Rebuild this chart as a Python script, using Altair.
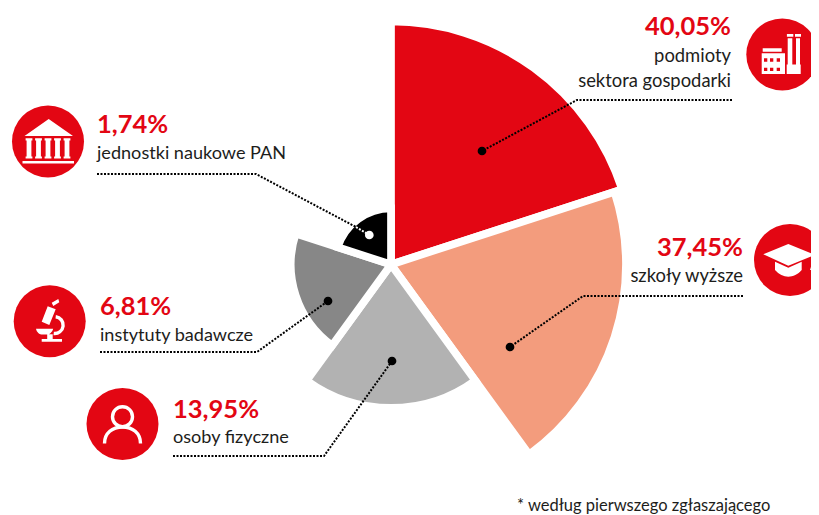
import math
import altair as alt
import pandas as pd

# ---- values ----
categories = ["podmioty sektora gospodarki", "szkoły wyższe", "osoby fizyczne",
              "instytuty badawcze", "jednostki naukowe PAN"]
shares = [40.05, 37.45, 13.95, 6.81, 1.74]          # printed labels
slice_size = [40.05, 37.45, 13.95, 6.81, 2.13]      # size as drawn (smallest slice is drawn a bit larger)
slice_order = [0, 1, 2, 3, 4]
percent_labels = ["40,05%", "37,45%", "13,95%", "6,81%", "1,74%"]

# ---- style / layout ----
RED = "#E30613"
INK = "#1D1D1B"
palette = [RED, "#F39C7D", "#B2B2B2", "#878787", "#000000"]
FONT = "Lato"
OX, OY = 8, 8

step = 2 * math.pi / len(categories)
pie_df = pd.DataFrame({"cat": categories, "size": slice_size,
                       "t0": [i * step for i in slice_order],
                       "t1": [(i + 1) * step for i in slice_order]})
pie = alt.Chart(pie_df).mark_arc(stroke="white", strokeWidth=7.7).encode(
    theta=alt.Theta("t0:Q", scale=None, stack=None),
    theta2="t1:Q",
    radius=alt.Radius("size:Q", stack=None, scale=alt.Scale(type="sqrt", domain=[0, 40.05], range=[0, 243])),
    color=alt.Color("cat:N", scale=alt.Scale(domain=categories, range=palette), legend=None),
    x=alt.value(391 - OX),
    y=alt.value(264.5 - OY),
)

def X(f="x"):
    return alt.X(f + ":Q", scale=None, axis=None)

def Y(f="y"):
    return alt.Y(f + ":Q", scale=None, axis=None)

# leader lines
leaders = [
    [(732, 100), (577, 100), (482, 151)],
    [(743, 296), (583, 296), (510, 347)],
    [(173, 456), (324, 456), (392, 361)],
    [(100, 352), (257, 352), (328, 301)],
    [(97, 174), (256, 174), (356, 227)],
]
inner_leader = [(356, 227), (369.3, 235)]

def line_df(polys):
    return pd.DataFrame([
        {"g": i, "k": k, "x": p[0] - OX, "y": p[1] - OY}
        for i, poly in enumerate(polys) for k, p in enumerate(poly)
    ])

def line_layer(polys, color):
    return alt.Chart(line_df(polys)).mark_line(
        strokeDash=[2, 1.5], strokeWidth=2, color=color
    ).encode(x=X(), y=Y(), detail="g:N", order="k:Q")

lines = line_layer(leaders, "black")
inner = line_layer([inner_leader], "white")

dots_df = pd.DataFrame({"x": [482 - OX, 510 - OX, 392 - OX, 328 - OX],
                        "y": [151 - OY, 347 - OY, 361 - OY, 301 - OY]})
dots = alt.Chart(dots_df).mark_point(filled=True, size=76, color="black", opacity=1, shape="circle").encode(x=X(), y=Y())
wdot = alt.Chart(pd.DataFrame({"x": [369.3 - OX], "y": [235 - OY]})).mark_point(
    filled=True, size=76, color="white", opacity=1, shape="circle").encode(x=X(), y=Y())

# icon discs
icon_centers = {
    "factory": (782.3, 54.5),
    "cap": (790, 260),
    "person": (122.5, 424),
    "scope": (49.7, 321.3),
    "bank": (48, 141.5),
}
discs_df = pd.DataFrame([{"x": c[0] - OX, "y": c[1] - OY} for c in icon_centers.values()])
discs = alt.Chart(discs_df).mark_point(filled=True, size=5184, color=RED, opacity=1, shape="circle").encode(x=X(), y=Y())

def rect(x0, y0, x1, y1):
    return f"M{x0},{y0}L{x1},{y0}L{x1},{y1}L{x0},{y1}Z"

def hole(x0, y0, x1, y1):
    return f"M{x0},{y0}L{x0},{y1}L{x1},{y1}L{x1},{y0}Z"

factory = (
    rect(5.4, -16.2, 10, 14) + rect(13.7, -16.2, 17.7, 14)
    + rect(4.6, -20.5, 11, -17.8) + rect(12.7, -20.5, 18.7, -17.8)
    + rect(4.4, 10, 18.4, 19.5)
    + rect(-19.6, -6.2, -0.6, -2.8)
    + rect(-20.6, -1.2, 2.7, 19.5)
    + hole(-18.3, 3.8, -15, 7.2) + hole(-12.3, 3.8, -9, 7.2) + hole(-5.6, 3.8, -2.3, 7.2)
    + hole(-18.3, 13.2, -15, 16.5) + hole(-12.3, 13.2, -9, 16.5) + hole(-5.6, 13.2, -2.3, 16.5)
)
cap = (
    "M-26.7,-5.7L-1.7,-16L25,-5L-1.7,5.7Z"
    "M-15,1.7L-1.7,7.7L11.7,1.7L11.7,10C8,14.5 3,16.7 -1.7,16.7C-6.5,16.7 -11,14.5 -15,10Z"
    "M22.6,-5L24,-5.6L24,3L22.6,3Z"
    "M20,10L22.3,2.7L24.3,2.7L27.3,10Z"
)
columns = "".join(
    rect(c - 3.4, -3.2, c + 3.4, -1) + rect(c - 2.4, -1, c + 2.4, 15) + rect(c - 3.4, 15, c + 3.4, 17)
    for c in (-19, -9.5, 0, 9.5, 19)
)
bank = "M0.7,-22.5L25,-5.5L-23.5,-5.5Z" + columns + rect(-25.5, 19.5, 26, 22)
scope = (
    "M2,-18.6L8.6,-22.3L9.6,-19L3.6,-15.3Z"
    "M-2,-15L6,-12L-0.4,3.7L-8,0.4Z"
    "M-13.7,7.5L3.5,7.5C2.5,11 0,13.3 -3,13.3L-7,13.3C-10.5,13.3 -13,11 -13.7,7.5Z"
    + rect(-8, 17.6, 12.3, 20.4) + rect(-2.5, 13, 3, 18)
)
scope_ring = "M6,-4.6A8.4,8.4 0 1 1 4,12.2"
person_head = "M10,-7.3A10,10 0 1 1 -10,-7.3A10,10 0 1 1 10,-7.3Z"
person_body = "M-18,19.4C-18,9 -10,3 0,3C10,3 18,9 18,19.4"

def icon(name, path, stroke=False):
    c = icon_centers[name]
    df = pd.DataFrame({"x": [c[0] - OX], "y": [c[1] - OY]})
    if stroke:
        m = alt.Chart(df).mark_point(shape=path, size=4, filled=False, stroke="white",
                                     strokeWidth=3.4, opacity=1)
    else:
        m = alt.Chart(df).mark_point(shape=path, size=4, filled=True, fill="white",
                                     strokeOpacity=0, opacity=1)
    return m.encode(x=X(), y=Y())

icons = [
    icon("factory", factory),
    icon("cap", cap),
    icon("bank", bank),
    icon("scope", scope),
    icon("scope", scope_ring, stroke=True),
    icon("person", person_head, stroke=True),
    icon("person", person_body, stroke=True),
]

# texts
left_pct = pd.DataFrame({"t": [percent_labels[4], percent_labels[3], percent_labels[2]],
                         "x": [97 - OX, 100 - OX, 173 - OX],
                         "y": [133 - OY, 315.3 - OY, 417.7 - OY]})
right_pct = pd.DataFrame({"t": [percent_labels[0], percent_labels[1]],
                          "x": [731 - OX, 743 - OX],
                          "y": [35.3 - OY, 255.7 - OY]})
left_txt = pd.DataFrame({"t": ["jednostki naukowe PAN", "instytuty badawcze", "osoby fizyczne"],
                         "x": [97 - OX, 100 - OX, 173 - OX],
                         "y": [159 - OY, 341 - OY, 443.3 - OY]})
right_txt = pd.DataFrame({"t": ["podmioty", "sektora gospodarki", "szkoły wyższe"],
                          "x": [731 - OX, 731 - OX, 743 - OX],
                          "y": [62 - OY, 86.7 - OY, 281.7 - OY]})
foot = pd.DataFrame({"t": ["* według pierwszego zgłaszającego"], "x": [517 - OX], "y": [511 - OY]})

def text_layer(df, align, size, color, weight="normal"):
    return alt.Chart(df).mark_text(align=align, baseline="alphabetic", font=FONT, fontSize=size,
                                   fontWeight=weight, color=color).encode(x=X(), y=Y(), text="t:N")

texts = [
    text_layer(left_pct, "left", 25.5, RED, "bold"),
    text_layer(right_pct, "right", 25.5, RED, "bold"),
    text_layer(left_txt, "left", 18.1, INK),
    text_layer(right_txt, "right", 18.4, INK),
    text_layer(foot, "left", 16.5, INK),
]

chart = alt.layer(pie, lines, inner, dots, wdot, discs, *icons, *texts).properties(
    width=803, height=507, padding=0,
    autosize=alt.AutoSizeParams(type="none"),
).configure_view(stroke=None)

chart.save("out.html", embed_options={"renderer": "svg", "actions": False})
